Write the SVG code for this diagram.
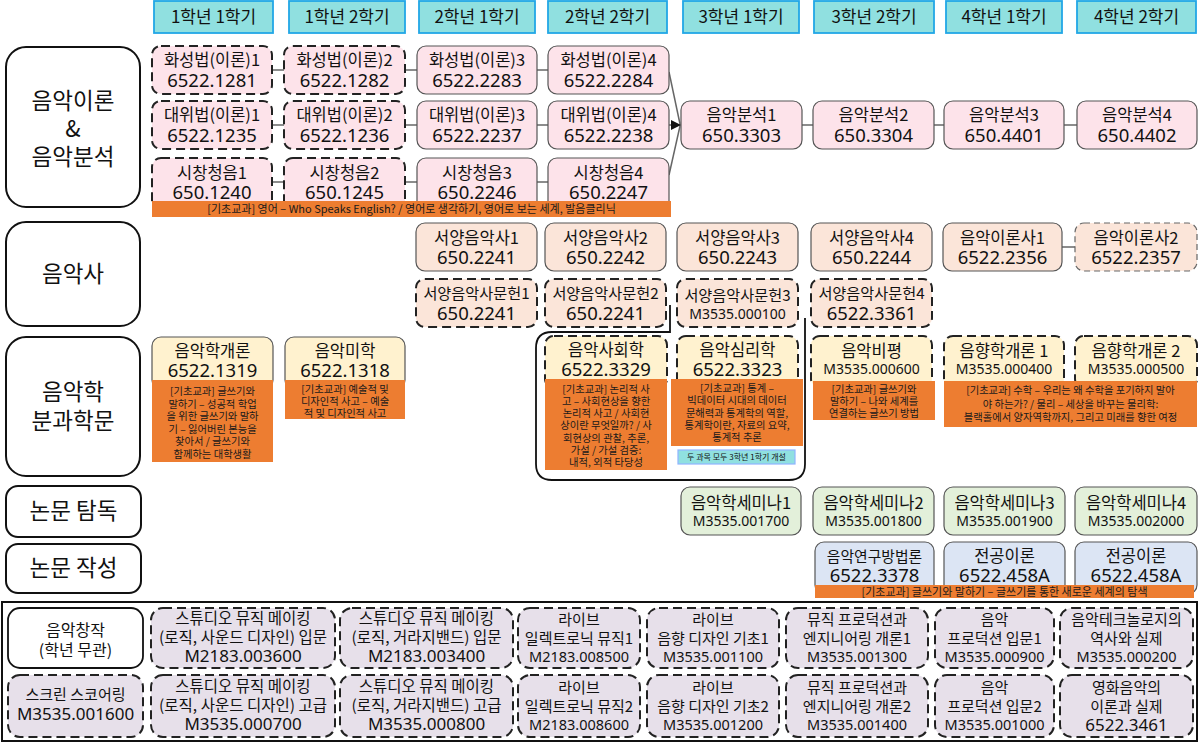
<svg xmlns="http://www.w3.org/2000/svg" width="1200" height="743" viewBox="0 0 1200 743">
<defs>
<style>
.bg{fill:#ffffff}
.hd{fill:#90e0e0;stroke:#22a7e6;stroke-width:1.8}
.cat{fill:#ffffff;stroke:#111;stroke-width:2}
.s{stroke:#555;stroke-width:1.2}
.d{stroke:#222;stroke-width:2;stroke-dasharray:9 5}
.dg{stroke:#666;stroke-width:1.2;stroke-dasharray:6 4}
.pk{fill:#fde3ea}
.pe{fill:#fbe5d9}
.cr{fill:#fff2cf}
.gr{fill:#e3f0da}
.bl{fill:#dce5f4}
.lv{fill:#e7e0ea}
.or{fill:#ed7d31}
.note{fill:#90e0e0;stroke:#8fb4ff;stroke-width:1.2}
text{font-family:"Noto Sans CJK KR","Noto Sans",sans-serif;text-anchor:middle;fill:#111}
.h{font-size:17px}
.ct{font-size:22.5px}
.n{font-size:16.5px}
.nw{font-size:15.2px}
.c{font-family:"Noto Sans","Noto Sans CJK KR",sans-serif;font-size:18.5px}
.m{font-family:"Noto Sans","Noto Sans CJK KR",sans-serif;font-size:14px}
.o{font-size:10.3px;fill:#1a1a1a}
.ob{font-size:11px;fill:#1a1a1a}
.nt{font-size:8px}
.b{font-size:15px}
.bs{font-size:15.5px}
.bm{font-family:"Noto Sans","Noto Sans CJK KR",sans-serif;font-size:14.5px}
.bc{font-family:"Noto Sans","Noto Sans CJK KR",sans-serif;font-size:17px}
.ln{fill:none;stroke:#666;stroke-width:1.5}
.ctr{fill:none;stroke:#111;stroke-width:1.8}
</style>
<marker id="arr" viewBox="0 0 10 10" refX="10" refY="5" markerWidth="10" markerHeight="10" markerUnits="userSpaceOnUse" orient="auto">
<path d="M0,0 L10,5 L0,10 Z" fill="#111"/>
</marker>
</defs>
<rect class="bg" x="0" y="0" width="1200" height="743"/>

<g id="headers">
<g id="h-1-1"><rect class="hd" x="154" y="1" width="119" height="32"/><text class="h" x="213.5" y="23">1학년 1학기</text></g>
<g id="h-1-2"><rect class="hd" x="289" y="1" width="116" height="32"/><text class="h" x="347" y="23">1학년 2학기</text></g>
<g id="h-2-1"><rect class="hd" x="419" y="1" width="116" height="32"/><text class="h" x="477" y="23">2학년 1학기</text></g>
<g id="h-2-2"><rect class="hd" x="548" y="1" width="119" height="32"/><text class="h" x="607.5" y="23">2학년 2학기</text></g>
<g id="h-3-1"><rect class="hd" x="683" y="1" width="116" height="32"/><text class="h" x="741" y="23">3학년 1학기</text></g>
<g id="h-3-2"><rect class="hd" x="814" y="1" width="120" height="32"/><text class="h" x="874" y="23">3학년 2학기</text></g>
<g id="h-4-1"><rect class="hd" x="946" y="1" width="116" height="32"/><text class="h" x="1004" y="23">4학년 1학기</text></g>
<g id="h-4-2"><rect class="hd" x="1077" y="1" width="119" height="32"/><text class="h" x="1136.5" y="23">4학년 2학기</text></g>
</g>

<g id="categories">
<g id="cat-theory"><rect class="cat" x="6" y="47" width="134" height="160" rx="20"/><text class="ct" x="73" y="109">음악이론</text><text class="ct" x="73" y="137">&amp;</text><text class="ct" x="73" y="165">음악분석</text></g>
<g id="cat-history"><rect class="cat" x="6" y="222" width="134" height="104" rx="20"/><text class="ct" x="73" y="282">음악사</text></g>
<g id="cat-musicology"><rect class="cat" x="6" y="337" width="134" height="139" rx="20"/><text class="ct" x="73" y="400">음악학</text><text class="ct" x="73" y="429">분과학문</text></g>
<g id="cat-reading"><rect class="cat" x="6" y="486" width="135" height="51" rx="12"/><text class="ct" x="73.5" y="519">논문 탐독</text></g>
<g id="cat-writing"><rect class="cat" x="6" y="544" width="135" height="49" rx="12"/><text class="ct" x="73.5" y="576">논문 작성</text></g>
</g>

<g id="connectors">
<line class="ln" x1="272" y1="70" x2="284" y2="70"/>
<line class="ln" x1="405" y1="70" x2="417" y2="70"/>
<line class="ln" x1="537" y1="70" x2="548" y2="70"/>
<line class="ln" x1="272" y1="125" x2="284" y2="125"/>
<line class="ln" x1="405" y1="125" x2="417" y2="125"/>
<line class="ln" x1="537" y1="125" x2="548" y2="125"/>
<line class="ln" x1="272" y1="182" x2="284" y2="182"/>
<line class="ln" x1="405" y1="182" x2="417" y2="182"/>
<line class="ln" x1="537" y1="182" x2="548" y2="182"/>
<line class="ln" x1="669" y1="72" x2="680" y2="124"/>
<line class="ln" x1="669" y1="175" x2="680" y2="126"/>
<line class="ln" x1="669" y1="125" x2="681" y2="125" marker-end="url(#arr)"/>
<line class="ln" x1="802" y1="125" x2="813" y2="125"/>
<line class="ln" x1="934" y1="125" x2="944" y2="125"/>
<line class="ln" x1="1064" y1="125" x2="1077" y2="125"/>
<line class="ln" x1="1062" y1="247" x2="1075" y2="247"/>
<path class="ctr" d="M670,305 V332 H552 Q536,332 536,348 V464 Q536,480 552,480 H789 Q805,480 805,464 V318"/>
</g>

<g id="n-hs1"><rect class="pk d" x="152" y="46" width="120" height="48" rx="9"/><text class="n" x="212" y="66">화성법(이론)1</text><text class="c" x="212" y="87">6522.1281</text></g>
<g id="n-hs2"><rect class="pk d" x="284" y="46" width="121" height="48" rx="9"/><text class="n" x="344.5" y="66">화성법(이론)2</text><text class="c" x="344.5" y="87">6522.1282</text></g>
<g id="n-hs3"><rect class="pk s" x="417" y="46" width="120" height="48" rx="9"/><text class="n" x="477" y="66">화성법(이론)3</text><text class="c" x="477" y="87">6522.2283</text></g>
<g id="n-hs4"><rect class="pk s" x="548" y="46" width="121" height="48" rx="9"/><text class="n" x="608.5" y="66">화성법(이론)4</text><text class="c" x="608.5" y="87">6522.2284</text></g>
<g id="n-dw1"><rect class="pk d" x="152" y="101" width="120" height="48" rx="9"/><text class="n" x="212" y="121">대위법(이론)1</text><text class="c" x="212" y="142">6522.1235</text></g>
<g id="n-dw2"><rect class="pk d" x="284" y="101" width="121" height="48" rx="9"/><text class="n" x="344.5" y="121">대위법(이론)2</text><text class="c" x="344.5" y="142">6522.1236</text></g>
<g id="n-dw3"><rect class="pk s" x="417" y="101" width="120" height="48" rx="9"/><text class="n" x="477" y="121">대위법(이론)3</text><text class="c" x="477" y="142">6522.2237</text></g>
<g id="n-dw4"><rect class="pk s" x="548" y="101" width="121" height="48" rx="9"/><text class="n" x="608.5" y="121">대위법(이론)4</text><text class="c" x="608.5" y="142">6522.2238</text></g>
<g id="n-sc1"><rect class="pk d" x="152" y="158" width="120" height="52" rx="9"/><text class="n" x="212" y="179">시창청음1</text><text class="c" x="212" y="199">650.1240</text></g>
<g id="n-sc2"><rect class="pk d" x="284" y="158" width="121" height="52" rx="9"/><text class="n" x="344.5" y="179">시창청음2</text><text class="c" x="344.5" y="199">650.1245</text></g>
<g id="n-sc3"><rect class="pk s" x="417" y="158" width="120" height="52" rx="9"/><text class="n" x="477" y="179">시창청음3</text><text class="c" x="477" y="199">650.2246</text></g>
<g id="n-sc4"><rect class="pk s" x="548" y="158" width="121" height="52" rx="9"/><text class="n" x="608.5" y="179">시창청음4</text><text class="c" x="608.5" y="199">650.2247</text></g>
<g id="n-eng"><rect class="or" x="152" y="201" width="519" height="16"/><text class="ob" x="411.5" y="213">[기초교과] 영어 – Who Speaks English? / 영어로 생각하기, 영어로 보는 세계, 발음클리닉</text></g>
<g id="n-an1"><rect class="pk s" x="681" y="101" width="121" height="48" rx="9"/><text class="n" x="741.5" y="121">음악분석1</text><text class="c" x="741.5" y="142">650.3303</text></g>
<g id="n-an2"><rect class="pk s" x="813" y="101" width="121" height="48" rx="9"/><text class="n" x="873.5" y="121">음악분석2</text><text class="c" x="873.5" y="142">650.3304</text></g>
<g id="n-an3"><rect class="pk s" x="944" y="101" width="120" height="48" rx="9"/><text class="n" x="1004" y="121">음악분석3</text><text class="c" x="1004" y="142">650.4401</text></g>
<g id="n-an4"><rect class="pk s" x="1077" y="101" width="120" height="48" rx="9"/><text class="n" x="1137" y="121">음악분석4</text><text class="c" x="1137" y="142">650.4402</text></g>

<g id="n-wh1"><rect class="pe s" x="416" y="223" width="121" height="48" rx="9"/><text class="n" x="476.5" y="244">서양음악사1</text><text class="c" x="476.5" y="264">650.2241</text></g>
<g id="n-wh2"><rect class="pe s" x="545" y="223" width="121" height="48" rx="9"/><text class="n" x="605.5" y="244">서양음악사2</text><text class="c" x="605.5" y="264">650.2242</text></g>
<g id="n-wh3"><rect class="pe s" x="677" y="223" width="121" height="48" rx="9"/><text class="n" x="737.5" y="244">서양음악사3</text><text class="c" x="737.5" y="264">650.2243</text></g>
<g id="n-wh4"><rect class="pe s" x="811" y="223" width="121" height="48" rx="9"/><text class="n" x="871.5" y="244">서양음악사4</text><text class="c" x="871.5" y="264">650.2244</text></g>
<g id="n-th1"><rect class="pe s" x="943" y="223" width="119" height="48" rx="9"/><text class="n" x="1002.5" y="244">음악이론사1</text><text class="c" x="1002.5" y="264">6522.2356</text></g>
<g id="n-th2"><rect class="pe dg" x="1075" y="223" width="122" height="48" rx="9"/><text class="n" x="1136" y="244">음악이론사2</text><text class="c" x="1136" y="264">6522.2357</text></g>
<g id="n-wl1"><rect class="pe d" x="416" y="279" width="121" height="48" rx="9"/><text class="nw" x="476.5" y="299">서양음악사문헌1</text><text class="c" x="476.5" y="320">650.2241</text></g>
<g id="n-wl2"><rect class="pe d" x="545" y="279" width="121" height="48" rx="9"/><text class="nw" x="605.5" y="299">서양음악사문헌2</text><text class="c" x="605.5" y="320">650.2241</text></g>
<g id="n-wl3"><rect class="pe d" x="677" y="279" width="121" height="48" rx="9"/><text class="nw" x="737.5" y="301">서양음악사문헌3</text><text class="m" x="737.5" y="319">M3535.000100</text></g>
<g id="n-wl4"><rect class="pe d" x="811" y="279" width="121" height="48" rx="9"/><text class="nw" x="871.5" y="299">서양음악사문헌4</text><text class="c" x="871.5" y="320">6522.3361</text></g>

<g id="n-intro"><rect class="cr s" x="152" y="337" width="121" height="52" rx="9"/><text class="n" x="212.5" y="357">음악학개론</text><text class="c" x="212.5" y="377">6522.1319</text>
<rect class="or" x="152" y="380" width="121" height="82"/>
<text class="o" x="212.5" y="395">[기초교과] 글쓰기와</text><text class="o" x="212.5" y="407.6">말하기 – 성공적 학업</text><text class="o" x="212.5" y="420.2">을 위한 글쓰기와 말하</text><text class="o" x="212.5" y="432.8">기 – 잃어버린 본능을</text><text class="o" x="212.5" y="445.4">찾아서 / 글쓰기와</text><text class="o" x="212.5" y="458">함께하는 대학생활</text></g>
<g id="n-aesth"><rect class="cr s" x="285" y="337" width="120" height="52" rx="9"/><text class="n" x="345" y="357">음악미학</text><text class="c" x="345" y="377">6522.1318</text>
<rect class="or" x="285" y="380" width="120" height="39"/>
<text class="o" x="345" y="392.5">[기초교과] 예술적 및</text><text class="o" x="345" y="404.5">디자인적 사고 – 예술</text><text class="o" x="345" y="416.5">적 및 디자인적 사고</text></g>
<g id="n-soc"><rect class="cr d" x="545" y="336" width="122" height="52" rx="9"/><text class="n" x="606" y="356">음악사회학</text><text class="c" x="606" y="376">6522.3329</text>
<rect class="or" x="545" y="379" width="122" height="91"/>
<text class="o" x="606" y="392.5">[기초교과] 논리적 사</text><text class="o" x="606" y="404.8">고 – 사회현상을 향한</text><text class="o" x="606" y="417.1">논리적 사고 / 사회현</text><text class="o" x="606" y="429.4">상이란 무엇일까? / 사</text><text class="o" x="606" y="441.7">회현상의 관찰, 추론,</text><text class="o" x="606" y="454">가설 / 가설 검증:</text><text class="o" x="606" y="466.3">내적, 외적 타당성</text></g>
<g id="n-psy"><rect class="cr d" x="677" y="336" width="121" height="52" rx="9"/><text class="n" x="737.5" y="356">음악심리학</text><text class="c" x="737.5" y="376">6522.3323</text>
<rect class="or" x="671" y="379" width="132" height="67"/>
<text class="o" x="737" y="392">[기초교과] 통계 –</text><text class="o" x="737" y="404.3">빅데이터 시대의 데이터</text><text class="o" x="737" y="416.6">문해력과 통계학의 역할,</text><text class="o" x="737" y="428.9">통계학이란, 자료의 요약,</text><text class="o" x="737" y="441.2">통계적 추론</text></g>
<g id="n-note"><rect class="note" x="678" y="450" width="117" height="14"/><text class="nt" x="736.5" y="460">두 과목 모두 3학년 1학기 개설</text></g>
<g id="n-crit"><rect class="cr d" x="811" y="336" width="121" height="52" rx="9"/><text class="n" x="871.5" y="357">음악비평</text><text class="m" x="871.5" y="374">M3535.000600</text>
<rect class="or" x="813" y="381" width="122" height="39"/>
<text class="o" x="874" y="393">[기초교과] 글쓰기와</text><text class="o" x="874" y="405">말하기 – 나와 세계를</text><text class="o" x="874" y="417">연결하는 글쓰기 방법</text></g>
<g id="n-ac1"><rect class="cr d" x="944" y="336" width="120" height="52" rx="9"/><text class="n" x="1004" y="357">음향학개론 1</text><text class="m" x="1004" y="374">M3535.000400</text></g>
<g id="n-ac2"><rect class="cr d" x="1075" y="336" width="122" height="52" rx="9"/><text class="n" x="1136" y="357">음향학개론 2</text><text class="m" x="1136" y="374">M3535.000500</text></g>
<g id="n-acor"><rect class="or" x="944" y="381" width="253" height="46"/>
<text class="o" x="1070.5" y="394">[기초교과] 수학 – 우리는 왜 수학을 포기하지 말아</text><text class="o" x="1070.5" y="407.5">야 하는가? / 물리 – 세상을 바꾸는 물리학:</text><text class="o" x="1070.5" y="421">블랙홀에서 양자역학까지, 그리고 미래를 향한 여정</text></g>

<g id="n-sem1"><rect class="gr s" x="681" y="487" width="120" height="48" rx="9"/><text class="n" x="741" y="509">음악학세미나1</text><text class="m" x="741" y="526">M3535.001700</text></g>
<g id="n-sem2"><rect class="gr s" x="813" y="487" width="121" height="48" rx="9"/><text class="n" x="873.5" y="509">음악학세미나2</text><text class="m" x="873.5" y="526">M3535.001800</text></g>
<g id="n-sem3"><rect class="gr s" x="944" y="487" width="121" height="48" rx="9"/><text class="n" x="1004.5" y="509">음악학세미나3</text><text class="m" x="1004.5" y="526">M3535.001900</text></g>
<g id="n-sem4"><rect class="gr s" x="1075" y="487" width="122" height="48" rx="9"/><text class="n" x="1136" y="509">음악학세미나4</text><text class="m" x="1136" y="526">M3535.002000</text></g>
<g id="n-meth"><rect class="bl s" x="815" y="542" width="119" height="52" rx="9"/><text class="nw" style="font-size:14.8px" x="874.5" y="562">음악연구방법론</text><text class="c" x="874.5" y="582">6522.3378</text></g>
<g id="n-maj1"><rect class="bl s" x="944" y="542" width="121" height="52" rx="9"/><text class="n" x="1004.5" y="562">전공이론</text><text class="c" x="1004.5" y="582">6522.458A</text></g>
<g id="n-maj2"><rect class="bl s" x="1075" y="542" width="122" height="52" rx="9"/><text class="n" x="1136" y="562">전공이론</text><text class="c" x="1136" y="582">6522.458A</text></g>
<g id="n-wrt"><rect class="or" x="815" y="585" width="379" height="13"/><text class="ob" x="1004.5" y="595.5">[기초교과] 글쓰기와 말하기 – 글쓰기를 통한 새로운 세계의 탐색</text></g>

<g id="composition">
<rect fill="none" stroke="#111" stroke-width="2" x="2" y="602" width="1195" height="139"/>
<g id="n-comp"><rect fill="#fff" stroke="#111" stroke-width="1.8" x="8" y="608" width="135" height="60" rx="12"/><text style="font-size:16px" x="75.5" y="636">음악창작</text><text style="font-size:16px" x="75.5" y="656">(학년 무관)</text></g>
<g id="n-scr"><rect class="lv d" x="8" y="675" width="135" height="62" rx="12"/><text class="b" x="75.5" y="700">스크린 스코어링</text><text class="bc" x="75.5" y="720">M3535.001600</text></g>
<g id="n-st1"><rect class="lv d" x="151" y="608" width="184" height="60" rx="12"/><text class="bs" x="243" y="624">스튜디오 뮤직 메이킹</text><text class="bs" x="243" y="643">(로직, 사운드 디자인) 입문</text><text class="bc" x="243" y="662">M2183.003600</text></g>
<g id="n-st2"><rect class="lv d" x="340" y="608" width="173" height="60" rx="12"/><text class="bs" x="426.5" y="624">스튜디오 뮤직 메이킹</text><text class="bs" x="426.5" y="643">(로직, 거라지밴드) 입문</text><text class="bc" x="426.5" y="662">M2183.003400</text></g>
<g id="n-st3"><rect class="lv d" x="151" y="675" width="184" height="62" rx="12"/><text class="bs" x="243" y="692">스튜디오 뮤직 메이킹</text><text class="bs" x="243" y="711">(로직, 사운드 디자인) 고급</text><text class="bc" x="243" y="730">M3535.000700</text></g>
<g id="n-st4"><rect class="lv d" x="340" y="675" width="173" height="62" rx="12"/><text class="bs" x="426.5" y="692">스튜디오 뮤직 메이킹</text><text class="bs" x="426.5" y="711">(로직, 거라지밴드) 고급</text><text class="bc" x="426.5" y="730">M3535.000800</text></g>
<g id="n-le1"><rect class="lv d" x="518" y="608" width="122" height="60" rx="12"/><text class="b" x="579" y="625">라이브</text><text class="b" x="579" y="644">일렉트로닉 뮤직1</text><text class="bm" x="579" y="662">M2183.008500</text></g>
<g id="n-la1"><rect class="lv d" x="647" y="608" width="132" height="60" rx="12"/><text class="b" x="713" y="625">라이브</text><text class="b" x="713" y="644">음향 디자인 기초1</text><text class="bm" x="713" y="662">M3535.001100</text></g>
<g id="n-mp1"><rect class="lv d" x="786" y="608" width="142" height="60" rx="12"/><text class="b" x="857" y="625">뮤직 프로덕션과</text><text class="b" x="857" y="644">엔지니어링 개론1</text><text class="bm" x="857" y="662">M3535.001300</text></g>
<g id="n-pi1"><rect class="lv d" x="935" y="608" width="119" height="60" rx="12"/><text class="b" x="994.5" y="625">음악</text><text class="b" x="994.5" y="644">프로덕션 입문1</text><text class="bm" x="994.5" y="662">M3535.000900</text></g>
<g id="n-tech"><rect class="lv d" x="1060" y="608" width="133" height="60" rx="12"/><text class="b" x="1126.5" y="625">음악테크놀로지의</text><text class="b" x="1126.5" y="644">역사와 실제</text><text class="bm" x="1126.5" y="662">M3535.000200</text></g>
<g id="n-le2"><rect class="lv d" x="518" y="675" width="122" height="62" rx="12"/><text class="b" x="579" y="693">라이브</text><text class="b" x="579" y="712">일렉트로닉 뮤직2</text><text class="bm" x="579" y="730">M2183.008600</text></g>
<g id="n-la2"><rect class="lv d" x="647" y="675" width="132" height="62" rx="12"/><text class="b" x="713" y="693">라이브</text><text class="b" x="713" y="712">음향 디자인 기초2</text><text class="bm" x="713" y="730">M3535.001200</text></g>
<g id="n-mp2"><rect class="lv d" x="786" y="675" width="142" height="62" rx="12"/><text class="b" x="857" y="693">뮤직 프로덕션과</text><text class="b" x="857" y="712">엔지니어링 개론2</text><text class="bm" x="857" y="730">M3535.001400</text></g>
<g id="n-pi2"><rect class="lv d" x="935" y="675" width="119" height="62" rx="12"/><text class="b" x="994.5" y="693">음악</text><text class="b" x="994.5" y="712">프로덕션 입문2</text><text class="bm" x="994.5" y="730">M3535.001000</text></g>
<g id="n-film"><rect class="lv d" x="1060" y="675" width="133" height="62" rx="12"/><text class="b" x="1126.5" y="693">영화음악의</text><text class="b" x="1126.5" y="712">이론과 실제</text><text class="bc" x="1126.5" y="731">6522.3461</text></g>
</g>
</svg>
